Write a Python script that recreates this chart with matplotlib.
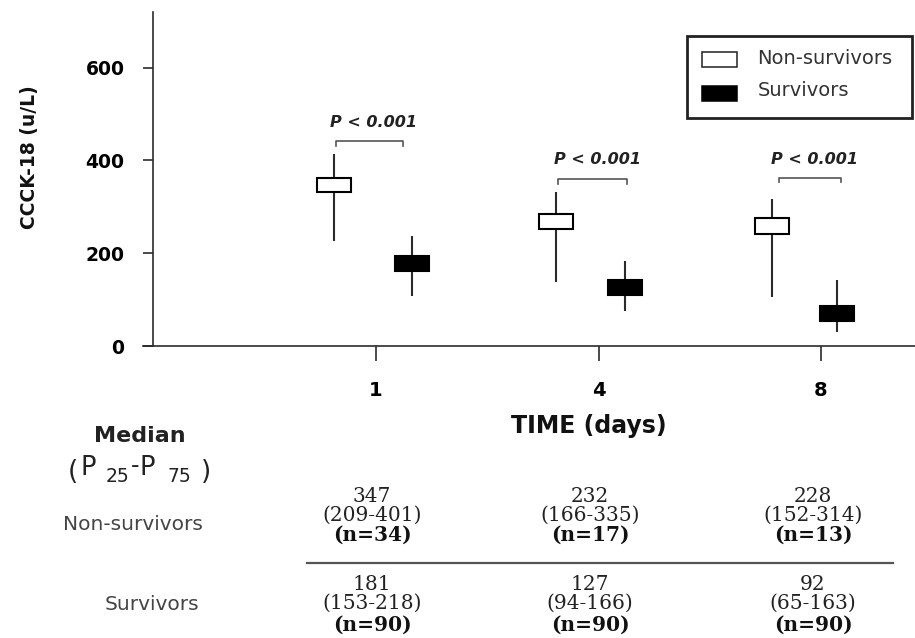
import matplotlib
matplotlib.use("Agg")
import matplotlib.pyplot as plt
from matplotlib.patches import Rectangle
from matplotlib.lines import Line2D

# ---------------- data ----------------
days = ["1", "4", "8"]
groups = ["Non-survivors", "Survivors"]

# position offsets of each group relative to its day tick (category units)
ns_offset = [-0.19, -0.19, -0.22]
s_offset = [0.16, 0.12, 0.07]

# box (inner range) and whisker (outer range), u/L
ns_box_low = [331, 252, 241]
ns_box_high = [363, 284, 275]
ns_whisk_low = [226, 138, 105]
ns_whisk_high = [413, 331, 316]

s_box_low = [161, 110, 54]
s_box_high = [194, 142, 86]
s_whisk_low = [108, 75, 30]
s_whisk_high = [237, 183, 142]

# significance brackets
p_text = "P < 0.001"
bracket_y = [441, 359, 363]
bracket_left = [-0.18, -0.18, -0.19]
bracket_right = [0.12, 0.13, 0.09]
ptext_y = [482, 402, 402]

# table
ns_median = ["347", "232", "228"]
ns_iqr = ["(209-401)", "(166-335)", "(152-314)"]
ns_n = ["(n=34)", "(n=17)", "(n=13)"]
s_median = ["181", "127", "92"]
s_iqr = ["(153-218)", "(94-166)", "(65-163)"]
s_n = ["(n=90)", "(n=90)", "(n=90)"]

yticks = [0, 200, 400, 600]

# ---------------- figure ----------------
W, H = 915, 638
fig = plt.figure(figsize=(W / 100, H / 100), dpi=100)
fig.patch.set_facecolor("white")


def P(x, y):
    return (x / W, 1 - y / H)


SANS = ["DejaVu Sans"]
SERIF = ["DejaVu Serif"]
axcol = "#2b2b2b"

# axes: left edge at x=143 px so that x axis line starts there; y spine at 153 px
x_px0 = 376.0
px_per_unit = 222.5
ax_left_px, ax_right_px = 143, 915
ax_top_px, ax_bot_px = 12, 346
ax = fig.add_axes([ax_left_px / W, 1 - ax_bot_px / H,
                   (ax_right_px - ax_left_px) / W, (ax_bot_px - ax_top_px) / H])
ax.set_xlim((ax_left_px - x_px0) / px_per_unit, (ax_right_px - x_px0) / px_per_unit)
ax.set_ylim(0, 720)

for s in ["top", "right"]:
    ax.spines[s].set_visible(False)
ax.spines["left"].set_position(("data", (153 - x_px0) / px_per_unit))
ax.spines["left"].set_color(axcol)
ax.spines["bottom"].set_color(axcol)
ax.spines["left"].set_linewidth(1.2)
ax.spines["bottom"].set_linewidth(1.2)

xpos = list(range(len(days)))
ax.set_xticks(xpos)
ax.set_xticklabels(days, fontsize=14, fontweight="bold", family=SANS)
ax.set_yticks(yticks)
ax.set_yticklabels([str(v) for v in yticks], fontsize=13.5, fontweight="bold", family=SANS)
ax.tick_params(axis="y", direction="out", length=7.5, width=1.2, color=axcol, pad=13)
ax.tick_params(axis="x", direction="out", length=10.5, width=1.2, color=axcol, pad=15)

box_w = 0.153


def draw_group(offsets, blo, bhi, wlo, whi, face):
    for i in range(len(days)):
        xc = xpos[i] + offsets[i]
        ax.plot([xc, xc], [wlo[i], whi[i]], color=axcol, lw=1.5, zorder=2,
                solid_capstyle="butt")
        ax.add_patch(Rectangle((xc - box_w / 2, blo[i]), box_w, bhi[i] - blo[i],
                               facecolor=face, edgecolor="black", lw=1.5, zorder=3))


draw_group(ns_offset, ns_box_low, ns_box_high, ns_whisk_low, ns_whisk_high, "white")
draw_group(s_offset, s_box_low, s_box_high, s_whisk_low, s_whisk_high, "black")

for i in range(len(days)):
    xl = xpos[i] + bracket_left[i]
    xr = xpos[i] + bracket_right[i]
    yb = bracket_y[i]
    ax.plot([xl, xl, xr, xr], [yb - 9, yb, yb, yb - 9], color="#555555", lw=1.2)
    ax.text(xpos[i] + (bracket_left[i] + bracket_right[i]) / 2 + 0.02, ptext_y[i], p_text,
            ha="center", va="center", fontsize=11.5, fontweight="bold", fontstyle="italic",
            family=SANS, color="#222222")

# y label
fig.text(*P(30, 157), "CCCK-18 (u/L)", rotation=90, ha="center", va="center",
         fontsize=13.5, fontweight="bold", family=SANS, color="#111111")
# x label
fig.text(*P(589, 426), "TIME (days)", ha="center", va="center",
         fontsize=17, fontweight="bold", family=SANS, color="#111111")

# legend (manual)
fig.add_artist(Rectangle(P(687, 118), (912 - 687) / W, (118 - 36) / H,
                         transform=fig.transFigure, facecolor="white",
                         edgecolor="#222222", lw=2.0))
fig.add_artist(Rectangle(P(702, 67), 35 / W, 15 / H, transform=fig.transFigure,
                         facecolor="white", edgecolor="#222222", lw=1.1))
fig.add_artist(Rectangle(P(702, 101), 35 / W, 15 / H, transform=fig.transFigure,
                         facecolor="black", edgecolor="black", lw=1.1))
fig.text(*P(757, 59), groups[0], ha="left", va="center", fontsize=14,
         family=SANS, color="#333333")
fig.text(*P(758, 91), groups[1], ha="left", va="center", fontsize=14,
         family=SANS, color="#333333")

# table
tcol = "#222222"
fig.text(*P(140, 436), "Median", ha="center", va="center", fontsize=16,
         fontweight="bold", family=SANS, color=tcol)
# (P25-P75) built from pieces to match spacing
fig.text(*P(73, 479), "(", ha="center", va="baseline", fontsize=19, family=SANS, color=tcol)
fig.text(*P(88, 475), "P", ha="center", va="baseline", fontsize=18.5, family=SANS, color=tcol)
fig.text(*P(118, 482), "25", ha="center", va="baseline", fontsize=13.5, family=SANS, color=tcol)
fig.text(*P(135, 473), "-", ha="center", va="baseline", fontsize=17, family=SANS, color=tcol)
fig.text(*P(147, 475), "P", ha="center", va="baseline", fontsize=18.5, family=SANS, color=tcol)
fig.text(*P(179, 482), "75", ha="center", va="baseline", fontsize=13.5, family=SANS, color=tcol)
fig.text(*P(206, 479), ")", ha="center", va="baseline", fontsize=19, family=SANS, color=tcol)

fig.text(*P(133, 524), groups[0], ha="center", va="center", fontsize=14.5,
         family=SANS, color="#444444")
fig.text(*P(152, 604), groups[1], ha="center", va="center", fontsize=14.5,
         family=SANS, color="#444444")

col_x = [372, 590, 813]
fs = 14.5
for i in range(len(days)):
    fig.text(*P(col_x[i], 497), ns_median[i], ha="center", va="center",
             fontsize=fs, family=SERIF, color=tcol)
    fig.text(*P(col_x[i], 515), ns_iqr[i], ha="center", va="center",
             fontsize=fs, family=SERIF, color=tcol)
    fig.text(*P(col_x[i], 535), ns_n[i], ha="center", va="center",
             fontsize=fs, fontweight="bold", family=SERIF, color="#111111")
    fig.text(*P(col_x[i], 585), s_median[i], ha="center", va="center",
             fontsize=fs, family=SERIF, color=tcol)
    fig.text(*P(col_x[i], 603), s_iqr[i], ha="center", va="center",
             fontsize=fs, family=SERIF, color=tcol)
    fig.text(*P(col_x[i], 625), s_n[i], ha="center", va="center",
             fontsize=fs, fontweight="bold", family=SERIF, color="#111111")

x0, y0 = P(307, 563)
x1, _ = P(893, 563)
fig.add_artist(Line2D([x0, x1], [y0, y0], transform=fig.transFigure,
                      color="#555555", lw=1.6))

fig.savefig("out.png", dpi=100, facecolor="white")
